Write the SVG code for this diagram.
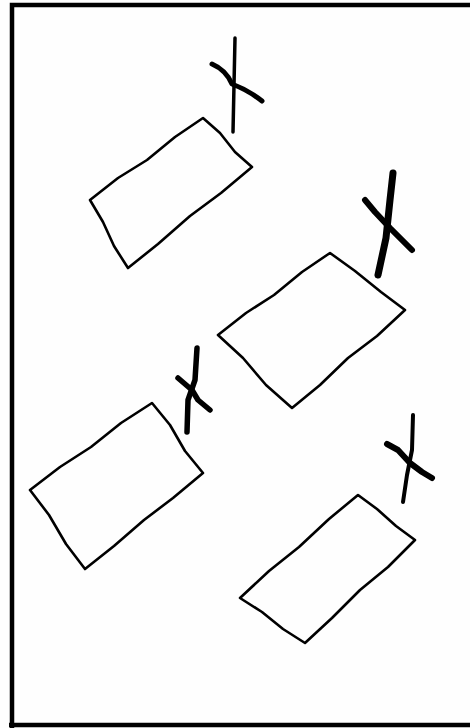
<svg xmlns="http://www.w3.org/2000/svg" width="470" height="728" viewBox="0 0 470 728">
<style>
.box{fill:none;stroke:#000;stroke-width:2.6;stroke-linejoin:round;stroke-linecap:round}
.mk{fill:none;stroke:#000;stroke-linecap:round;stroke-linejoin:round}
</style>
<rect x="0" y="0" width="470" height="728" fill="#fefefe"/>
<path d="M12 730 V5 H475" fill="none" stroke="#000" stroke-width="4.5"/>
<path d="M9 725 H475" fill="none" stroke="#000" stroke-width="4.5"/>
<g id="table1">
<polygon class="box" points="203,118 220,133 235,152 252,167 221,193 190,216 158,244 128,268 114,246 103,222 90,200 118,178 147,160 175,137"/>
<path class="mk" stroke-width="3.5" d="M235 38 L233 132"/>
<path class="mk" stroke-width="5" d="M212 64 Q226 70 232 84 Q248 90 262 101"/>
</g>
<g id="table2">
<polygon class="box" points="330,253 355,271 381,292 405,310 377,336 348,358 320,385 292,408 266,385 243,358 218,335 246,313 274,295 302,272"/>
<path class="mk" stroke-width="7" d="M393 173 L390 200 L386 238 L378 275"/>
<path class="mk" stroke-width="6" d="M365 200 L375 212 L390 228 L402 240 L412 250"/>
</g>
<g id="table3">
<polygon class="box" points="152,403 170,425 185,451 203,473 173,498 144,520 114,546 85,569 66,544 49,515 30,490 60,467 91,447 121,423"/>
<path class="mk" stroke-width="5.5" d="M197 348 L195 380 L188 400 L187 432"/>
<path class="mk" stroke-width="5.5" d="M178 378 L192 390 L198 400 L210 410"/>
</g>
<g id="table4">
<polygon class="box" points="358,495 377,509 396,526 415,540 388,567 360,590 332,618 305,643 283,629 262,612 240,598 269,571 299,547 329,519"/>
<path class="mk" stroke-width="4" d="M413 415 L412 450 L407 475 L403 502"/>
<path class="mk" stroke-width="6" d="M387 444 L398 450 L410 463 L422 472 L432 478"/>
</g>
</svg>
